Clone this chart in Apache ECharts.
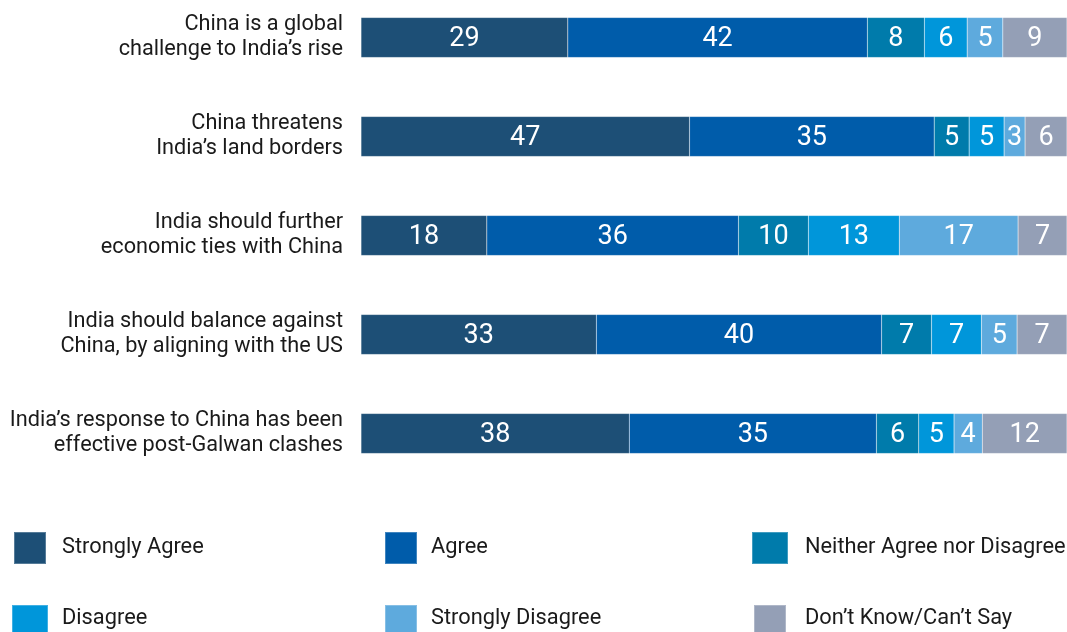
<!DOCTYPE html>
<html><head><meta charset="utf-8">
<script src="https://cdn.jsdelivr.net/npm/echarts@6/dist/echarts.min.js"></script>
<style>html,body{margin:0;padding:0;background:#fff}#c{width:1067px;height:632px}</style>
</head><body><div id="c"></div>
<script>
const categories = [
  "China is a global\nchallenge to India\u2019s rise",
  "China threatens\nIndia\u2019s land borders",
  "India should further\neconomic ties with China",
  "India should balance against\nChina, by aligning with the US",
  "India\u2019s response to China has been\neffective post-Galwan clashes"
];
const seriesNames = ["Strongly Agree","Agree","Neither Agree nor Disagree","Disagree","Strongly Disagree","Don\u2019t Know/Can\u2019t Say"];
const stronglyAgree = [29,47,18,33,38];
const agree = [42,35,36,40,35];
const neither = [8,5,10,7,6];
const disagree = [6,5,13,7,5];
const stronglyDisagree = [5,3,17,5,4];
const dontKnow = [9,6,7,7,12];
const colors = ["#1d4f76","#005caa","#007bab","#0096da","#5eaadd","#949fb6"];

const all = [stronglyAgree, agree, neither, disagree, stronglyDisagree, dontKnow];
const totals = categories.map((_, i) => all.reduce((s, a) => s + a[i], 0));
const chart = echarts.init(document.getElementById('c'));
const series = all.map((arr, k) => ({
  name: seriesNames[k], type: 'bar', stack: 'all', barWidth: 40,
  itemStyle: { color: colors[k], borderColor: 'rgba(255,255,255,0.25)', borderWidth: 0.5 },
  label: { show: true, position: 'inside', offset: [0, 2], color: '#fff', fontSize: 27, fontFamily: 'Roboto',
    formatter: p => arr[p.dataIndex] },
  data: arr.map((v, i) => ({ value: v / totals[i] * 100 }))
}));
// legend layout: left, top, icon w, icon h, text left pad, text vertical shift
const legendLayout = [
  [13, 531, 32, 32, 11, 1.5],
  [384, 531, 32, 32, 9, -3.5],
  [751, 531, 36, 32, 12, -2.5],
  [11, 604, 36, 28, 9, -1.5],
  [384, 604, 32, 28, 9, -1.5],
  [753, 604, 32, 28, 14, -1.5]
];
const legends = seriesNames.map((n, k) => {
  const L = legendLayout[k];
  const dy = L[5];
  return {
    left: L[0], top: L[1], padding: 0, data: [n],
    icon: 'rect', itemWidth: L[2], itemHeight: L[3],
    textStyle: { fontSize: 21.8, fontFamily: 'Roboto', color: '#1a1a1a',
      padding: [Math.max(0, 2 * dy), 0, Math.max(0, -2 * dy), L[4]] }
  };
});
chart.setOption({
  animation: false,
  grid: { left: 361, right: 0, top: -12, height: 495, outerBoundsMode: 'none', containLabel: false },
  xAxis: { type: 'value', min: 0, max: 100, show: false },
  yAxis: { type: 'category', data: categories, inverse: true,
    axisLine: { show: false }, axisTick: { show: false },
    axisLabel: { fontSize: 21.7, fontFamily: 'Roboto', color: '#1a1a1a', lineHeight: 25, margin: 18, align: 'right' } },
  legend: legends,
  series
});
</script></body></html>
